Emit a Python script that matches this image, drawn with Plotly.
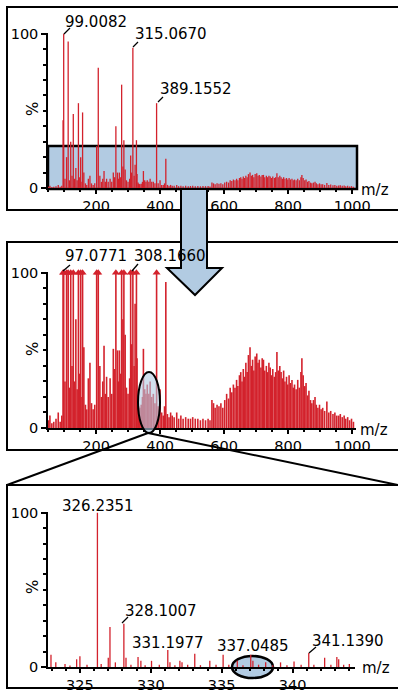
import plotly.graph_objects as go

# full scan m/z values (shared by panel 1 and panel 2)
mz_full = [52, 56, 62, 68, 75, 82, 88, 93, 97.0771, 99.0082, 103, 108, 113, 117, 121, 125, 129, 133, 137, 141,
           145, 149, 152, 156, 158, 162, 167, 171, 176, 181, 186, 191, 196, 202, 207, 212, 217, 221, 225, 229,
           233, 238, 244, 249, 254, 258, 262, 267, 270, 273, 277, 280, 284, 287, 291, 295, 300, 305, 308.166, 311,
           315.067, 319, 322, 326.2351, 328.1, 331.2, 333.2, 335.1, 337.05, 341.14, 345, 348, 352, 356, 360, 365, 369, 374, 379, 384,
           389.1552, 394, 400, 405, 410, 414, 418, 423, 428, 433, 438, 444, 452, 458, 465, 472, 480, 488, 495, 502,
           510, 518, 526, 534, 542, 550, 556, 562, 567, 572, 578, 584, 590, 596, 602, 608, 614, 619, 624, 629,
           634, 639, 643, 648, 652, 656, 660, 664, 668, 672, 676, 681, 685, 689, 693, 697, 702, 706, 710, 715,
           719, 723, 727, 732, 736, 740, 744, 748, 752, 757, 761, 765, 769, 774, 778, 782, 786, 790, 795, 799,
           803, 807, 812, 816, 820, 825, 830, 835, 840, 843, 847, 852, 856, 861, 865, 870, 874, 879, 884, 888,
           893, 898, 903, 908, 914, 921, 927, 933, 940, 946, 952, 958, 963, 969, 975, 980, 986, 992, 998, 1004]

# panel 1: relative intensity (%)
int_full = [0.8, 1.5, 0.6, 0.8, 1.2, 2.0, 0.8, 1.5, 44, 100, 6, 20, 95, 5, 30, 8, 48, 6, 13, 5,
            55, 7, 20, 4, 49, 10, 3, 2, 6, 8, 3, 2, 3, 27, 78, 8, 4, 6, 11, 4,
            6, 4, 6, 4, 10, 7, 40, 10, 6, 10, 7, 67, 14, 31, 12, 5, 4, 6, 21, 10,
            91, 8, 15, 31, 9, 3.5, 2.7, 2.5, 2.5, 2.8, 4, 11, 5, 4, 5, 4, 6, 4, 4, 3,
            55, 3, 5, 2, 2, 3, 19, 2, 1.5, 2, 1.5, 1.5, 2, 1.2, 1.5, 1.2, 1.4, 1.2, 1.3, 1.5,
            1.2, 1.3, 1.1, 1.3, 1.2, 1.3, 1.0, 3.5, 3, 2.5, 3, 2.8, 3, 2.5, 3.5, 4, 3.5, 5, 4.5, 5.5,
            5, 6, 5, 6.5, 7, 6, 7.5, 6.5, 8, 7, 9, 10, 8, 8.5, 7, 9, 9.5, 8, 8.5, 7.5,
            8.5, 8.5, 7, 8, 7, 8, 7.5, 6.5, 7.5, 6.5, 7, 9.5, 7, 8, 7, 6, 7, 6, 6.5, 5.5,
            6.5, 5.5, 6, 5, 5.5, 5, 6, 5, 7, 8.5, 6.5, 5, 5.5, 4, 4.5, 3.5, 3, 3.5, 4, 3,
            2.5, 3, 2.5, 2.5, 2, 3.3, 2, 2.2, 1.8, 2, 1.5, 1.6, 1.8, 1.4, 1.6, 1.2, 1.5, 1.0, 1.2, 0.8]

# panel 2: same scan, magnified (off-scale peaks shown at 100)
int_zoom = [5, 8, 3, 4, 6, 10, 4, 8, 100, 100, 30, 100, 100, 26, 100, 40, 100, 30, 70, 25,
            100, 35, 100, 20, 100, 52, 15, 12, 32, 42, 16, 12, 15, 100, 100, 40, 20, 30, 53, 22,
            33, 20, 32, 22, 51, 38, 100, 50, 30, 50, 35, 100, 70, 100, 60, 26, 22, 32, 100, 54,
            100, 40, 80, 100, 45, 18, 14, 13, 13, 15, 20, 51, 25, 22, 28, 22, 30, 20, 22, 16,
            100, 14, 25, 10, 8, 14, 94, 9, 7, 10, 8, 7, 10, 6, 8, 6, 7, 6, 6, 7,
            6, 6, 5, 6, 5, 6, 5, 18, 16, 13, 15, 14, 16, 13, 18, 22, 19, 26, 23, 28,
            26, 31, 27, 34, 36, 30, 38, 33, 42, 36, 47, 52, 40, 44, 37, 46, 48, 42, 44, 39,
            45, 44, 37, 40, 36, 42, 39, 34, 38, 33, 36, 49, 37, 40, 36, 32, 37, 30, 33, 28,
            34, 29, 31, 26, 28, 25, 31, 26, 36, 45, 34, 27, 29, 21, 24, 18, 16, 18, 20, 15,
            13, 15, 12, 13, 11, 17, 10, 11, 9, 10, 8, 8, 9, 7, 8, 6, 7, 5, 6, 4]

# panel 3: narrow window 323-344
mz_narrow = [322.96, 323.3, 323.95, 324.3, 324.77, 325.0, 325.5, 326.2351, 326.5, 327.0, 327.12, 327.5,
             328.1007, 328.25, 328.6, 329.1, 329.3, 329.6, 330.05, 330.6, 331.1977, 331.35, 331.7, 332.05, 332.2,
             332.6, 333.1, 333.5, 334.16, 334.6, 335.1, 335.5, 336.1, 336.5, 337.0485, 337.2, 337.6, 338.1,
             338.6, 339.15, 339.6, 340.1, 340.6, 341.139, 341.5, 342.26, 342.7, 343.12, 343.25, 343.6, 344.0]
int_narrow = [8, 3, 2, 1, 5, 7, 1.5, 100, 2, 6, 26, 3,
              28, 6, 1.5, 6.5, 4, 1.2, 4, 1.5, 11, 3, 1.2, 4, 3,
              1.5, 8.6, 1.2, 4, 1.5, 8, 1.5, 4, 1.2, 8, 4, 1.5, 3,
              1.2, 3, 1.2, 3.5, 1.5, 9, 1.5, 6, 1.5, 6.5, 5, 1.5, 2]

labels_p1 = ["99.0082", "315.0670", "389.1552"]
labels_p2 = ["97.0771", "308.1660"]
labels_p3 = ["326.2351", "328.1007", "331.1977", "337.0485", "341.1390"]

RED = "#d3222c"
BLUE = "rgb(178,203,226)"
FONT = "DejaVu Sans"
W, H = 398, 697


def px(x):
    return x / W


def py(y):
    return 1 - y / H


def sticks(mz, inten):
    xs, ys = [], []
    for m, v in zip(mz, inten):
        xs += [m, m, None]
        ys += [0, v, None]
    return xs, ys


fig = go.Figure()

x1, y1 = sticks(mz_full, int_full)
fig.add_trace(go.Scatter(x=x1, y=y1, mode="lines", line=dict(color=RED, width=1.3),
                         xaxis="x", yaxis="y", hoverinfo="skip"))

x2, y2 = sticks(mz_full, int_zoom)
fig.add_trace(go.Scatter(x=x2, y=y2, mode="lines", line=dict(color=RED, width=1.6),
                         xaxis="x2", yaxis="y2", hoverinfo="skip"))
caps = [m for m, v in zip(mz_full, int_zoom) if v >= 100]
fig.add_trace(go.Scatter(x=caps, y=[100] * len(caps), mode="markers",
                         marker=dict(symbol="triangle-up", size=7, color=RED),
                         xaxis="x2", yaxis="y2", cliponaxis=False, hoverinfo="skip"))

x3, y3 = sticks(mz_narrow, int_narrow)
fig.add_trace(go.Scatter(x=x3, y=y3, mode="lines", line=dict(color=RED, width=1.3),
                         xaxis="x3", yaxis="y3", hoverinfo="skip"))

tickfont = dict(family=FONT, size=14.5, color="black")


def xax(domain, anchor, rng, tickvals, minor):
    return dict(domain=domain, anchor=anchor, range=rng, tickvals=tickvals, automargin=False,
                ticks="outside", ticklen=4, tickwidth=1.5, tickcolor="black",
                showline=True, linecolor="black", linewidth=1.5, showgrid=False,
                zeroline=False, tickfont=tickfont, fixedrange=True,
                minor=dict(dtick=minor, ticks="outside", ticklen=2, tickcolor="black"))


def yax(domain, anchor):
    return dict(domain=domain, anchor=anchor, range=[0, 100.5], tickvals=[0, 100], automargin=False,
                ticks="outside", ticklen=5, tickwidth=1.5, tickcolor="black",
                showline=True, linecolor="black", linewidth=1.5, showgrid=False,
                zeroline=False, tickfont=tickfont, fixedrange=True,
                minor=dict(dtick=10, ticks="outside", ticklen=3, tickcolor="black"))


full_ticks = [200, 400, 600, 800, 1000]
fig.update_layout(
    width=W, height=H, autosize=False, margin=dict(l=0, r=0, t=0, b=0, pad=0),
    paper_bgcolor="white", plot_bgcolor="rgba(0,0,0,0)", showlegend=False,
    xaxis=xax([px(48), px(356)], "y", [50, 1012], full_ticks, 50),
    yaxis=yax([py(188), py(33)], "x"),
    xaxis2=xax([px(48), px(356)], "y2", [50, 1012], full_ticks, 50),
    yaxis2=yax([py(428), py(272)], "x2"),
    xaxis3=xax([px(48), px(355)], "y3", [322.75, 344.4], [325, 330, 335, 340], 1),
    yaxis3=yax([py(667), py(512)], "x3"),
)

shapes = []
# panel frames (right side runs off the picture)
for top, bot in [(7, 210), (242, 450), (485, 688)]:
    shapes.append(dict(type="rect", xref="paper", yref="paper", x0=px(7), x1=px(402),
                       y0=py(bot), y1=py(top), line=dict(color="black", width=2), layer="below"))
# highlighted band in panel 1
shapes.append(dict(type="rect", xref="paper", yref="paper", x0=px(48), x1=px(357),
                   y0=py(189), y1=py(146), fillcolor=BLUE,
                   line=dict(color="black", width=2.5), layer="below"))
# arrow from panel 1 to panel 2
arrow = [(181, 189), (181, 268), (167, 268), (195, 295), (222, 268), (207, 268), (207, 189)]
path = "M " + " L ".join(f"{px(a)},{py(b)}" for a, b in arrow) + " Z"
shapes.append(dict(type="path", xref="paper", yref="paper", path=path, fillcolor=BLUE,
                   line=dict(color="black", width=2), layer="above"))
# ellipse in panel 2 and zoom lines
shapes.append(dict(type="circle", xref="paper", yref="paper", x0=px(138), x1=px(160),
                   y0=py(433), y1=py(372), fillcolor="rgba(178,203,226,0.6)",
                   line=dict(color="black", width=2), layer="above"))
shapes.append(dict(type="line", xref="paper", yref="paper", x0=px(148), y0=py(433),
                   x1=px(7), y1=py(485), line=dict(color="black", width=2)))
shapes.append(dict(type="line", xref="paper", yref="paper", x0=px(148), y0=py(433),
                   x1=px(398), y1=py(485), line=dict(color="black", width=2)))
# ellipse in panel 3
shapes.append(dict(type="circle", xref="paper", yref="paper", x0=px(232), x1=px(273),
                   y0=py(678), y1=py(656), fillcolor=BLUE,
                   line=dict(color="black", width=2.5), layer="below"))
# leader lines for peak labels
leaders = [((64, 34), (70, 28)), ((133, 47), (138, 42)), ((158, 102), (163, 97)),
           ((63, 271), (70, 265)), ((132, 271), (138, 264)),
           ((122, 623), (128, 617)), ((309, 653), (316, 647))]
for (a, b), (c, d) in leaders:
    shapes.append(dict(type="line", xref="paper", yref="paper", x0=px(a), y0=py(b),
                       x1=px(c), y1=py(d), line=dict(color="black", width=1.3)))
fig.update_layout(shapes=shapes)

annots = []
label_pos = [(63, 22), (133, 34), (158, 89)]
label_pos2 = [(63, 256), (132, 256)]
label_pos3 = [(60, 506), (123, 611), (130, 643), (215, 646), (310, 641)]
for labels, pos in [(labels_p1, label_pos), (labels_p2, label_pos2), (labels_p3, label_pos3)]:
    for t, (a, b) in zip(labels, pos):
        annots.append(dict(text=t, x=px(a), y=py(b), xref="paper", yref="paper",
                           xanchor="left", yanchor="middle", showarrow=False,
                           font=dict(family=FONT, size=15, color="black")))
for a, b in [(359, 190), (358, 430), (360, 668)]:
    annots.append(dict(text="m/z", x=px(a), y=py(b), xref="paper", yref="paper",
                       xanchor="left", yanchor="middle", showarrow=False,
                       font=dict(family=FONT, size=15, color="black")))
for b in [109, 349, 587]:
    annots.append(dict(text="%", x=px(33), y=py(b), xref="paper", yref="paper",
                       xanchor="center", yanchor="middle", showarrow=False, textangle=-90,
                       font=dict(family=FONT, size=15, color="black")))
fig.update_layout(annotations=annots)

# no page margin or scrollbars, so the figure fills the 398x697 window exactly
page_css = ("document.documentElement.style.overflow='hidden';"
            "document.body.style.margin='0';document.body.style.overflow='hidden';")
fig.write_html("out.html", config={"displayModeBar": False, "responsive": False},
               post_script=page_css)
